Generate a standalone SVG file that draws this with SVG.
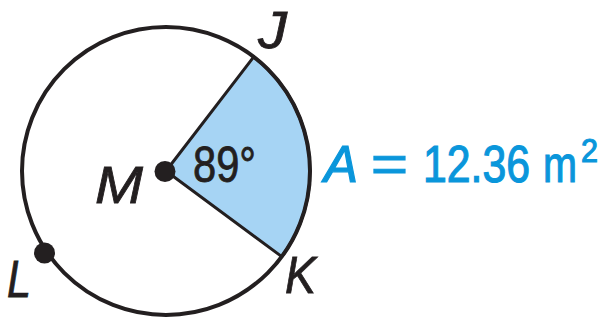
<svg xmlns="http://www.w3.org/2000/svg" width="603" height="320" viewBox="0 0 603 320">
<style>
.lbl{font-family:"Liberation Sans",Arial,sans-serif;font-style:italic;font-size:52px;fill:#231f20;stroke:#231f20;stroke-width:0.8px}
.blue{font-family:"Liberation Sans",Arial,sans-serif;font-size:52px;fill:#0a96db;stroke:#0a96db;stroke-width:1.2px}
.dot{fill:#231f20}
</style>
<rect width="603" height="320" fill="#ffffff"/>
<g id="sector">
<path d="M166 171 L253.7 56.8 A144 144 0 0 1 281.8 256.6 Z" fill="#a6d4f4" stroke="#231f20" stroke-width="3" stroke-linejoin="round"/>
</g>
<g id="circle">
<circle cx="166" cy="171" r="144" fill="none" stroke="#231f20" stroke-width="4"/>
</g>
<g id="M">
<circle class="dot" cx="165" cy="171.5" r="10.5"/>
<text class="lbl" x="95" y="203" textLength="48" lengthAdjust="spacingAndGlyphs">M</text>
</g>
<g id="J">
<text class="lbl" x="258" y="48" textLength="29" lengthAdjust="spacingAndGlyphs">J</text>
</g>
<g id="K">
<text class="lbl" x="285" y="293" textLength="31" lengthAdjust="spacingAndGlyphs">K</text>
</g>
<g id="L">
<circle class="dot" cx="44.5" cy="253" r="10.5"/>
<text class="lbl" x="7" y="297" textLength="24" lengthAdjust="spacingAndGlyphs">L</text>
</g>
<g id="angle">
<text x="193" y="182" font-family="'Liberation Sans',Arial,sans-serif" font-size="50" fill="#231f20" stroke="#231f20" stroke-width="0.8" textLength="63" lengthAdjust="spacingAndGlyphs">89°</text>
</g>
<g id="area">
<text class="blue" x="324" y="182" font-style="italic" textLength="34" lengthAdjust="spacingAndGlyphs">A</text>
<text class="blue" x="371" y="182" textLength="37" lengthAdjust="spacingAndGlyphs">=</text>
<text class="blue" x="423" y="182" textLength="107" lengthAdjust="spacingAndGlyphs">12.36</text>
<text class="blue" y="182"><tspan x="543" textLength="34" lengthAdjust="spacingAndGlyphs">m</tspan><tspan x="581" y="162" font-size="34" textLength="17" lengthAdjust="spacingAndGlyphs">2</tspan></text>
</g>
</svg>
